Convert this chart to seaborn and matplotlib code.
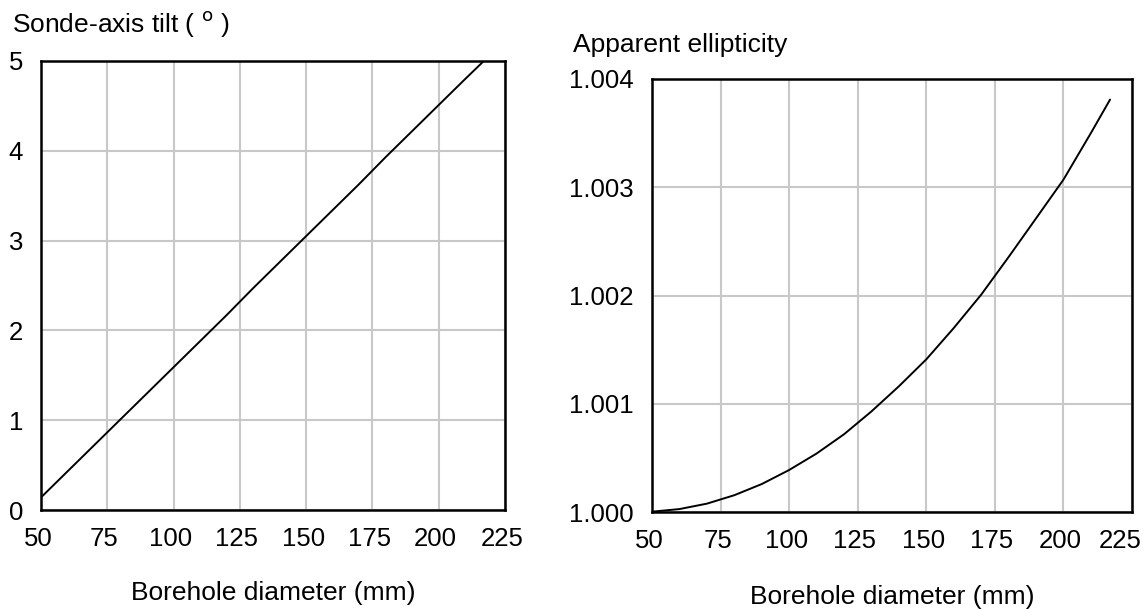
import matplotlib
matplotlib.use("Agg")
import matplotlib.pyplot as plt
import matplotlib.transforms as mtransforms
import seaborn as sns
import pandas as pd

# Data
diameter_mm = [50, 60, 70, 80, 90, 100, 110, 120, 130, 140, 150,
               160, 170, 180, 190, 200, 210, 217]
tilt_deg = [0.14, 0.43, 0.72, 1.01, 1.30, 1.59, 1.88, 2.17, 2.47, 2.76, 3.05,
            3.34, 3.63, 3.93, 4.22, 4.51, 4.80, 5.00]
ellipticity = [1.000003, 1.000027, 1.000077, 1.000155, 1.000258, 1.000388,
               1.000540, 1.000718, 1.000929, 1.001161, 1.001410, 1.001699,
               1.002007, 1.002355, 1.002712, 1.003070, 1.003500, 1.003810]
x_ticks = [50, 75, 100, 125, 150, 175, 200, 225]
tilt_ticks = [0, 1, 2, 3, 4, 5]
ell_ticks = [1.000, 1.001, 1.002, 1.003, 1.004]

df = pd.DataFrame({"d": diameter_mm, "tilt": tilt_deg, "ell": ellipticity})

sns.set_theme(style="white")
plt.rcParams["font.family"] = ["Liberation Sans", "DejaVu Sans"]
FS = 19
TS = 18.5

W, H = 1145, 609
fig = plt.figure(figsize=(W / 100, H / 100), dpi=100)
fig.patch.set_facecolor("white")

ax1 = fig.add_axes([41 / W, (H - 510) / H, 464 / W, 449 / H])
ax2 = fig.add_axes([652 / W, (H - 512) / H, 480 / W, 433 / H])

sns.lineplot(data=df, x="d", y="tilt", ax=ax1, color="black", linewidth=1.4)
sns.lineplot(data=df, x="d", y="ell", ax=ax2, color="black", linewidth=1.4)

for ax, yt in ((ax1, tilt_ticks), (ax2, ell_ticks)):
    ax.set_xlim(50, 225)
    ax.set_ylim(yt[0], yt[-1])
    ax.set_xticks(x_ticks)
    ax.set_yticks(yt)
    ax.grid(True, color="#c8c8c8", linewidth=1.5)
    ax.set_axisbelow(True)
    for s in ax.spines.values():
        s.set_color("black")
        s.set_linewidth(1.8)
        s.set_visible(True)
    ax.tick_params(axis="both", length=0, colors="black", labelsize=TS)
    ax.tick_params(axis="x", pad=12)
    ax.tick_params(axis="y", pad=13)
    ax.set_xlabel("Borehole diameter (mm)", fontsize=FS, color="black")
    ax.set_ylabel("")
    ax.xaxis.label.set_va("center")
    ax.set_xticklabels([str(t) for t in x_ticks])

ax1.set_yticklabels([str(t) for t in tilt_ticks])
ax2.set_yticklabels(["%.3f" % t for t in ell_ticks])

# shift x tick labels slightly left, as in the reference
for ax in (ax1, ax2):
    labs = ax.get_xticklabels()
    for i, lab in enumerate(labs):
        dx = -3 if i < len(labs) - 1 else (-12 if ax is ax2 else -3)
        off = mtransforms.ScaledTranslation(dx / 100, 0, fig.dpi_scale_trans)
        lab.set_transform(lab.get_transform() + off)

ax1.xaxis.set_label_coords(0.5, (510 - 593) / 449)
ax2.xaxis.set_label_coords(0.5, (512 - 597) / 433)

fig.text(12 / W, 1 - 24 / H, "Sonde-axis tilt ( $^{\\mathrm{o}}$ )", fontsize=FS,
         ha="left", va="center", color="black")
fig.text(573 / W, 1 - 45 / H, "Apparent ellipticity", fontsize=FS,
         ha="left", va="center", color="black")

fig.savefig("out.png", dpi=100, facecolor="white")
